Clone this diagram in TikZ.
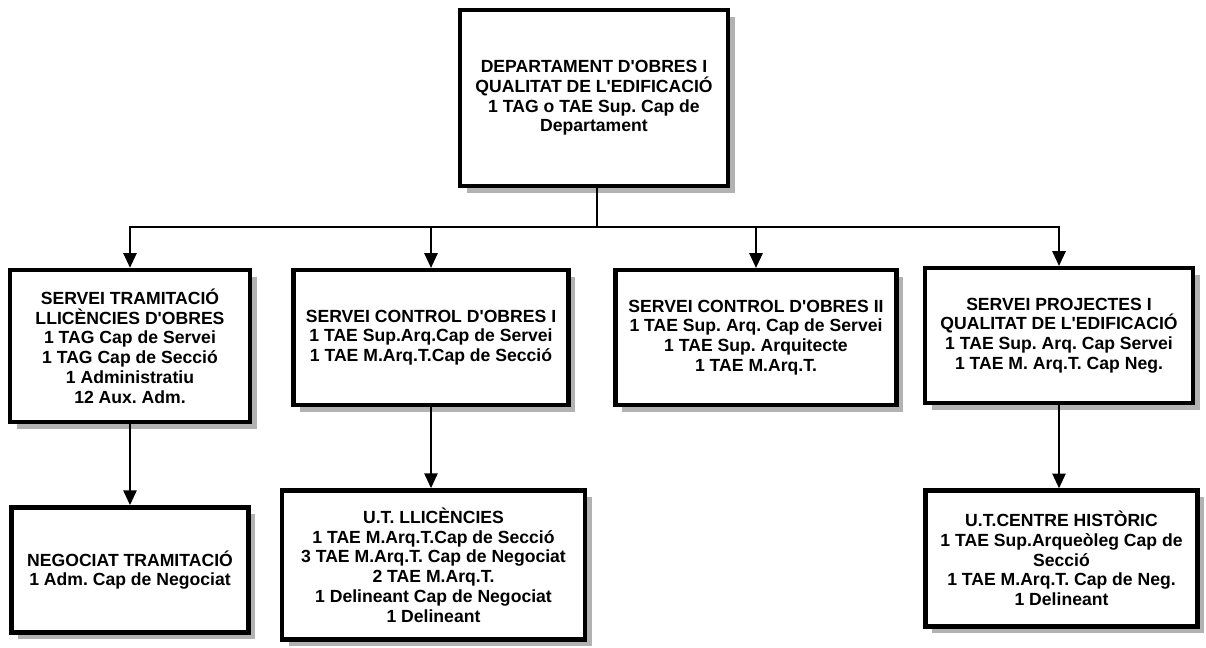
\documentclass[tikz,border=0pt]{standalone}
\usepackage{fontspec}
\setmainfont{Liberation Sans}[Ligatures=TeXOff]
\usepackage{tikz}
\usetikzlibrary{arrows.meta, positioning, shadows}
\frenchspacing

\begin{document}
\begin{tikzpicture}[
  x=0.75pt, y=-0.75pt,
  caixa/.style={draw, line width=3.4pt, fill=white, align=center, inner sep=2pt,
    font=\fontsize{13.2}{14.8}\selectfont\bfseries,
    drop shadow={shadow xshift=5pt, shadow yshift=-5pt, fill=black!30, opacity=1}},
  linia/.style={line width=1.1pt},
  fletxa/.style={-{Triangle[length=11pt, width=10pt]}, line width=1.1pt}
]
  \useasboundingbox (0,0) rectangle (1206,648);
  % nivell 1
  \node[caixa, minimum width=201pt, minimum height=132pt] (dep) at (594,98)
    {DEPARTAMENT D'OBRES I\\ QUALITAT DE L'EDIFICACIÓ\\ 1 TAG o TAE Sup. Cap de\\ Departament};
  % nivell 2
  \node[caixa, minimum width=180pt, minimum height=114pt] (tram) at (130,346)
    {SERVEI TRAMITACIÓ\\ LLICÈNCIES D'OBRES\\ 1 TAG Cap de Servei\\ 1 TAG Cap de Secció\\ 1 Administratiu\\ 12 Aux. Adm.};
  \node[caixa, minimum width=206pt, minimum height=101pt] (ctrl1) at (431,337.5)
    {SERVEI CONTROL D'OBRES I\\ 1 TAE Sup.Arq.Cap de Servei\\ 1 TAE M.Arq.T.Cap de Secció};
  \node[caixa, minimum width=211pt, minimum height=101pt] (ctrl2) at (756,337.5)
    {SERVEI CONTROL D'OBRES II\\ 1 TAE Sup. Arq. Cap de Servei\\ 1 TAE Sup. Arquitecte\\ 1 TAE M.Arq.T.};
  \node[caixa, minimum width=201pt, minimum height=101pt] (proj) at (1059,335.5)
    {SERVEI PROJECTES I\\ QUALITAT DE L'EDIFICACIÓ\\ 1 TAE Sup. Arq. Cap Servei\\ 1 TAE M. Arq.T. Cap Neg.};
  % nivell 3
  \node[caixa, minimum width=178pt, minimum height=94pt] (neg) at (130,570)
    {NEGOCIAT TRAMITACIÓ\\ 1 Adm. Cap de Negociat};
  \node[caixa, minimum width=227pt, minimum height=112pt] (llic) at (433.5,565)
    {U.T. LLICÈNCIES\\ 1 TAE M.Arq.T.Cap de Secció\\ 3 TAE M.Arq.T. Cap de Negociat\\ 2 TAE M.Arq.T.\\ 1 Delineant Cap de Negociat\\ 1 Delineant};
  \node[caixa, minimum width=204pt, minimum height=102pt] (hist) at (1061.5,558.5)
    {U.T.CENTRE HISTÒRIC\\ 1 TAE Sup.Arqueòleg Cap de\\ Secció\\ 1 TAE M.Arq.T. Cap de Neg.\\ 1 Delineant};
  % connexions
  \coordinate (bus) at (597,227);
  \draw[linia] (dep.south -| bus) -- (bus);
  \draw[fletxa] (bus) -| (tram.north);
  \draw[fletxa] (bus) -| (ctrl1.north);
  \draw[fletxa] (bus) -| (ctrl2.north);
  \draw[fletxa] (bus) -| (proj.north);
  \draw[fletxa] (tram.south) -- (neg.north);
  \draw[fletxa] (ctrl1.south) -- (ctrl1.south |- llic.north);
  \draw[fletxa] (proj.south) -- (proj.south |- hist.north);
\end{tikzpicture}
\end{document}
